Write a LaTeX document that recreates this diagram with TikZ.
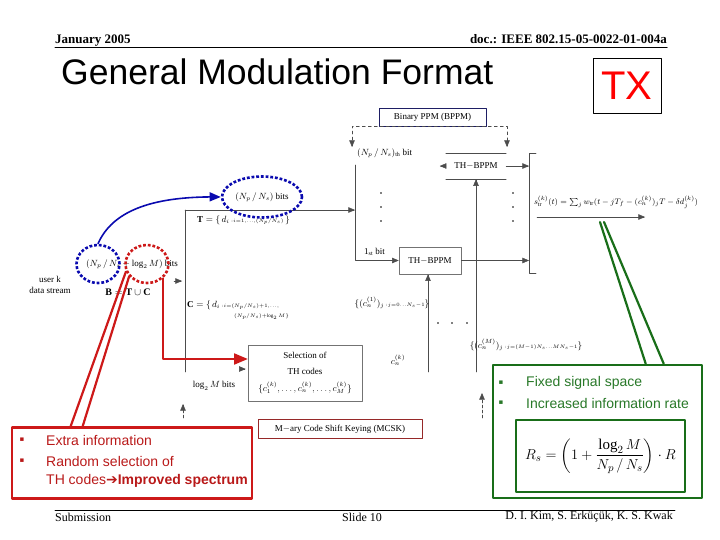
\documentclass[tikz,border=0pt]{standalone}
\usepackage{amsmath}
\usepackage{fontspec}
\setmainfont{Liberation Serif}
\newfontfamily\arialfont{Liberation Sans}
\newfontfamily\symfont{DejaVu Sans}
\usetikzlibrary{arrows,shapes.geometric,calc}
\definecolor{mcblue}{RGB}{10,10,175}
\definecolor{mcred}{RGB}{205,25,25}
\definecolor{redtext}{RGB}{185,25,25}
\definecolor{mcgreen}{RGB}{25,110,25}
\definecolor{greentext}{RGB}{40,120,40}
\definecolor{bppmnavy}{RGB}{30,30,100}
\definecolor{mcskred}{RGB}{150,40,40}
\newcommand{\fsz}[2]{\fontsize{#1}{#2}\selectfont}

\begin{document}
\begin{tikzpicture}[x=1pt,y=-1pt,line cap=round,line join=round,>=triangle 45,inner sep=0pt,
	diag/.style={font=\fsz{9}{11}},
	thinline/.style={line width=0.5pt,black!70},
	graybox/.style={draw=black!55,line width=0.6pt},
	dotring/.style={ellipse,draw,line width=2.6pt,line cap=butt,dash pattern=on 2.8pt off 1.9pt},
	callout/.style={draw,line width=2.6pt},
	bullet/.style={font=\symfont\fsz{7}{8}},
	redtxt/.style={font=\arialfont\fsz{14}{16},text=redtext},
	greentxt/.style={font=\arialfont\fsz{14}{16},text=greentext}]
	\useasboundingbox (0,0) rectangle (720,540);
	
	\node[anchor=base west,font=\fsz{13}{15}\bfseries] (month) at (55,44) {January 2005};
	\node[anchor=base east,font=\fsz{13}{15}\bfseries] (docid) at (667,44) {doc.: IEEE 802.15-05-0022-01-004a};
	\draw[line width=1pt] (month.base west |- 0,48) -- (docid.base east |- 0,48);
	\node[anchor=west,font=\arialfont\fsz{35.5}{40}] (title) at (61,72) {General Modulation Format};
	\node[draw,line width=0.8pt,minimum width=68pt,minimum height=55pt,text=red,font=\arialfont\fsz{40}{44}] (tx) at (627,85.5) {TX};
	
	\node[draw=bppmnavy,line width=0.8pt,minimum width=107pt,minimum height=18pt,diag] (bppm) at (432.5,117) {Binary PPM (BPPM)};
	\coordinate (dashl) at (352,147);
	\coordinate (dashr) at (507,147);
	\draw[thinline,dashed,<->] (dashl) |- (bppm.south) -| (dashr);
	\node[anchor=west,diag] (nthbit) at (357,153) {$(N_p\,/\,N_s)_{\mathrm{th}}$ bit};
	\node[minimum width=60pt,minimum height=26pt,diag] (thbu) at (476,166) {TH$-$BPPM};
	\draw[thinline] (thbu.north west) -- (thbu.north east) (thbu.south west) -- (thbu.south east);
	\draw[thinline,->] (thbu.west) -- ++(-6,0);
	\node[graybox,minimum width=62pt,minimum height=27pt,diag] (thbl) at (430,260.5) {TH$-$BPPM};
	\node[anchor=west,diag] (firstbit) at (364,252) {1$_{\mathrm{st}}$ bit};
	\coordinate (split) at (355,165);
	\draw[thinline,->] (split) |- (thbl.west);
	
	\coordinate (combtop) at (529,153);
	\coordinate (combbot) at (529,273);
	\draw[thinline] ($(combtop)+(7,0)$) -- (combtop) -- (combbot) -- ($(combbot)+(7,0)$);
	\draw[thinline,->] (thbu.east) -- (thbu.east -| combtop);
	\draw[thinline,->] (thbl.east) -- (thbl.east -| combtop);
	\coordinate (sout) at (537,217);
	\coordinate (send) at (645,217);
	\draw[thinline,->] (sout) -- (send);
	\node[font=\fsz{8}{10}] (strsig) at (616,202) {$s_{\mathrm{tr}}^{(k)}(t)=\sum_j w_{\mathrm{tr}}(t-jT_f-(c_n^{(k)})_jT-\delta d_j^{(k)})$};
	\foreach \y in {193,207,221} {
		\fill (381,\y) circle (0.9);
		\fill (513,\y) circle (0.9);
	}
	
	\coordinate (code1) at (428,372);
	\coordinate (codeM) at (476,372);
	\draw[thinline,->] (code1) -- (code1 |- thbl.south);
	\draw[thinline,->] (codeM) -- (thbu.south);
	\node[diag] (set1) at (392,303) {$\{(c_n^{(1)})_j\,{\scriptscriptstyle : j=0\ldots N_s-1}\}$};
	\node[diag] (cnk) at (398,360) {$c_n^{(k)}$};
	\foreach \x in {438,452,467} \fill (\x,323) circle (0.9);
	\node[diag] (setM) at (526,345) {$\{(c_n^{(M)})_j\,{\scriptscriptstyle : j=(M-1)N_s\ldots MN_s-1}\}$};
	\coordinate (outtip) at (482,393);
	\coordinate (outtail) at (482,418);
	\draw[thinline,densely dashed,->] (outtail) -- (outtip);
	
	\coordinate (bus) at (185,372);
	\coordinate (bustop) at (185,210);
	\draw[thinline] (bus) -- (bustop);
	\draw[thinline,->] (bustop) -- (bustop -| split);
	\coordinate (inflow) at (174,281);
	\draw[thinline,->] (inflow) -- ($(inflow -| bus)+(-3,0)$);
	\node[diag,align=center] (user) at (50,285) {user k\\data stream};
	\node[anchor=west,diag] (tset) at (197,220) {$\mathbf{T}=\{\,d_i\,{\scriptscriptstyle : i=1,\ldots,(N_p/N_s)}\,\}$};
	\node[anchor=west,diag] (cset) at (187,305) {$\mathbf{C}=\{\,d_i\,{\scriptscriptstyle : i=(N_p/N_s)+1,\ldots,}$};
	\node[anchor=west,font=\fsz{7}{8}] (csetb) at (234,317) {$\scriptscriptstyle (N_p/N_s)+\log_2 M\}$};
	\node[graybox,minimum width=114pt,minimum height=56pt,align=center,font=\fsz{9}{16.5}] (sel) at (305,373) {Selection of\\TH codes\\$\{c_1^{(k)},\ldots,c_n^{(k)},\ldots,c_M^{(k)}\}$};
	\draw[thinline,->] ($(sel.west)+(-6,-4)$) -- ($(sel.west)+(-2,-4)$);
	\node[diag] (logbits) at (214,386) {$\log_2 M$ bits};
	\coordinate (cdtip) at (183,404);
	\coordinate (cdtail) at (183,418);
	\draw[thinline,densely dashed,->] (cdtail) -- (cdtip);
	\node[draw=mcskred,line width=0.6pt,minimum width=164pt,minimum height=19pt,diag] (mcsk) at (340,429) {M$-$ary Code Shift Keying (MCSK)};
	
	\node[diag] (bits) at (132,264) {$(N_p\,/\,N_s+\log_2 M)$ bits};
	\node[dotring,draw=mcblue,minimum width=43pt,minimum height=38pt] (ringT) at (98,264) {};
	\node[dotring,draw=mcred,minimum width=43pt,minimum height=38pt] (ringC) at (147,264) {};
	\node[dotring,draw=mcblue,minimum width=80pt,minimum height=41pt,diag] (ringbits) at (262,197) {$(N_p\,/\,N_s)$ bits};
	\node[font=\fsz{10}{12}] (bset) at (128,292) {$\mathbf{B}=\mathbf{T}\cup\mathbf{C}$};
	\draw[mcblue,line width=1.6pt,->] (ringT.north) .. controls (112,212) and (150,196) .. (ringbits.west);
	
	\node[callout,draw=mcred,minimum width=240pt,minimum height=71pt] (extra) at (132,463) {};
	\draw[mcred,line width=2.2pt] (ringC.200) -- ($(extra.north west)+(60,0)$);
	\draw[mcred,line width=2.2pt] (ringC.215) -- ($(extra.north west)+(72,0)$);
	\draw[mcred,line width=2.2pt,->] (ringC.south east) |- ($(sel.west)+(0,-14)$);
	\node[bullet,text=redtext] (bula) at (22,440) {▪};
	\node[bullet,text=redtext] (bulb) at (22,461) {▪};
	\node[anchor=west,redtxt] (extraa) at (46,440) {Extra information};
	\node[anchor=west,redtxt] (extrab) at (46,461) {Random selection of};
	\node[anchor=west,redtxt] (extrac) at (46,481) {TH codes{\symfont ➔}\textbf{Improved spectrum}};
	
	\node[callout,draw=mcgreen,minimum width=209pt,minimum height=133pt] (fixed) at (597.5,431.5) {};
	\node[callout,draw=mcgreen,minimum width=169pt,minimum height=72pt,font=\fsz{15}{18}] (rate) at (600.5,456) {$R_s=\left(1+\dfrac{\log_2 M}{N_p\,/\,N_s}\right)\cdot R$};
	\coordinate (sigfoot) at (600,222);
	\draw[mcgreen,line width=2.2pt] (sigfoot) -- ($(fixed.north west)+(154,0)$);
	\draw[mcgreen,line width=2.2pt] ($(sigfoot)+(4,0)$) -- ($(fixed.north west)+(172,0)$);
	\node[bullet,text=greentext] (bulc) at (501,383) {▪};
	\node[bullet,text=greentext] (buld) at (501,403) {▪};
	\node[anchor=west,greentxt] (fixeda) at (526,383) {Fixed signal space};
	\node[anchor=west,greentxt] (fixedb) at (526,403) {Increased information rate};
	
	\draw[line width=0.8pt] (55,510) -- (675,510);
	\node[anchor=west,font=\fsz{12}{14}] (sub) at (55,517) {Submission};
	\node[font=\fsz{12}{14}] (slide) at (362,517) {Slide 10};
	\node[anchor=east,font=\fsz{12}{14}] (authors) at (673,517) {D. I. Kim, S. Erküçük, K. S. Kwak};
\end{tikzpicture}
\end{document}
